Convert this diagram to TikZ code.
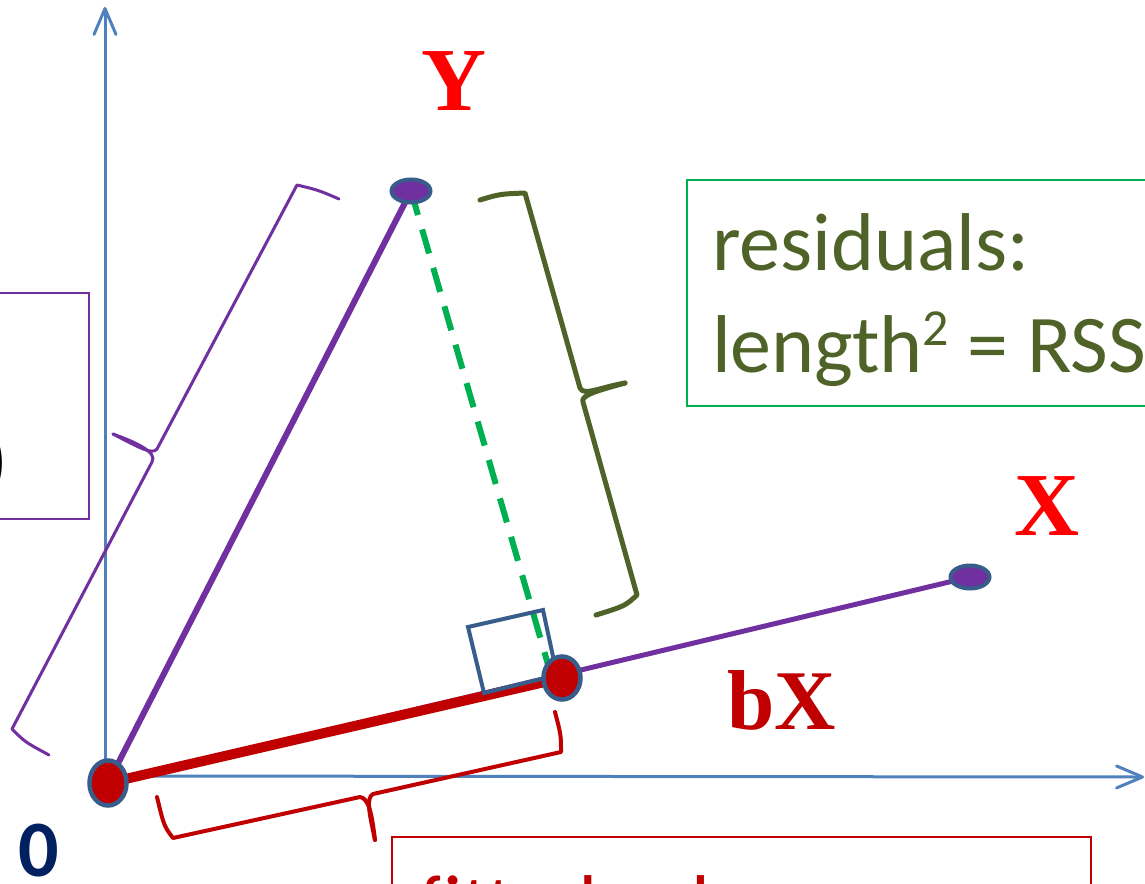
\documentclass[tikz,border=0pt]{standalone}
\usepackage{fontspec}
\setmainfont{Carlito}
\newfontfamily\serifbold{Liberation Serif}
\usetikzlibrary{arrows.meta,shapes.geometric}
\definecolor{axisblue}{HTML}{4F81BD}
\definecolor{vpurple}{HTML}{7030A0}
\definecolor{dotedge}{HTML}{385D8A}
\definecolor{fitred}{HTML}{C00000}
\definecolor{resgreen}{HTML}{00B050}
\definecolor{olivetxt}{HTML}{4F6228}
\definecolor{navytxt}{HTML}{002060}
\definecolor{labred}{HTML}{FF0000}
\begin{document}
\begin{tikzpicture}[x=1pt,y=-1pt,
  axisline/.style={axisblue, line width=3pt, -{Straight Barb[length=26pt,width=22pt,round]}},
  vecline/.style={vpurple},
  bigdot/.style={ellipse, fill=fitred, draw=dotedge, line width=4.5pt, minimum width=37pt, minimum height=45pt, inner sep=0pt},
  smalldot/.style={ellipse, fill=vpurple, draw=dotedge, line width=4pt, minimum width=39pt, minimum height=23pt, inner sep=0pt},
  veclabel/.style={font=\serifbold\bfseries\fontsize{90}{90}\selectfont, inner sep=0pt, anchor=base},
  bracepurple/.style={vpurple, line width=3pt, line cap=round, line join=round},
  braceolive/.style={olivetxt, line width=5pt, line cap=round, line join=round},
  bracered/.style={fitred, line width=4pt, line cap=round, line join=round},
  boxtext/.style={font=\fontsize{82}{98}\selectfont, inner sep=0pt, anchor=base west}
]
\useasboundingbox (0,0) rectangle (1145,883);
\clip (0,0) rectangle (1145,883);

% axes
\coordinate (ax0) at (105,776);
\coordinate (axY) at (105,7);
\coordinate (axX) at (1144,777);
\draw[axisline] (ax0) -- (axY);
\draw[axisline] (ax0) -- (axX);

% points
\coordinate (o) at (108,783);
\coordinate (y) at (411,191);
\coordinate (x) at (970,577);
\coordinate (b) at (562,678);
\coordinate (f) at (549,668);

% vectors
\draw[vecline, line width=6pt] (o) -- (y);
\draw[vecline, line width=5pt] (o) -- (x);
\draw[fitred, line width=10pt] (o) -- (b);
\draw[resgreen, line width=6pt, dash pattern=on 25pt off 15pt] (y) -- (f);

% right angle
\draw[dotedge, line width=4pt, line join=miter] (484,693) -- (468,627) -- (543,610) -- (557,675) -- cycle;

% braces
\draw[bracepurple] (339,199) .. controls (318,190) .. (297,185) -- (157,449)
  .. controls (152,455) and (140,448) .. (113,434);
\draw[bracepurple] (113,434) .. controls (135,442) and (158,452) .. (152,462)
  -- (12,729) .. controls (25,742) .. (49,755);

\draw[braceolive] (480,200) .. controls (500,194) .. (525,193) -- (580,388)
  .. controls (584,396) and (598,388) .. (625,383);
\draw[braceolive] (625,383) .. controls (600,390) and (580,395) .. (583,402)
  -- (637,595) .. controls (625,606) .. (596,615);

\draw[bracered] (555,712) .. controls (561,735) .. (561,752) -- (373,794)
  .. controls (366,798) and (369,812) .. (375,840);
\draw[bracered] (375,840) .. controls (372,815) and (369,798) .. (360,797)
  -- (173,838) .. controls (164,826) .. (157,797);

% dots
\node[bigdot] (O) at (o) {};
\node[bigdot, minimum height=43pt] (B) at (b) {};
\node[smalldot] (Y) at (y) {};
\node[smalldot] (X) at (x) {};

% labels
\node[veclabel, labred] (Ylab) at (454,110) {Y};
\node[veclabel, labred] (Xlab) at (1047,535) {X};
\node[veclabel, fitred, font=\serifbold\bfseries\fontsize{85}{85}\selectfont] (bXlab) at (782,729) {bX};
\node[inner sep=0pt, anchor=base, navytxt, font=\bfseries\fontsize{80}{80}\selectfont] (zero) at (39,876) {0};

% residuals box
\draw[resgreen, line width=2pt] (687,180) rectangle (1165,406);
\node[boxtext, olivetxt] (res1) at (712,270) {residuals:};
\node[boxtext, olivetxt] (res2) at (712,372) {length{\fontsize{52}{52}\selectfont\raisebox{27pt}{2}} = RSS};

% fitted box
\draw[fitred, line width=2pt] (392,837) rectangle (1091,930);
\node[boxtext, fitred] (fit1) at (419,932) {fitted values:};

% left box
\draw[vpurple, line width=2pt] (-10,293) rectangle (89,519);
\node[inner sep=0pt, anchor=base east, font=\fontsize{82}{82}\selectfont] (paren) at (9,487) {)};
\end{tikzpicture}
\end{document}
